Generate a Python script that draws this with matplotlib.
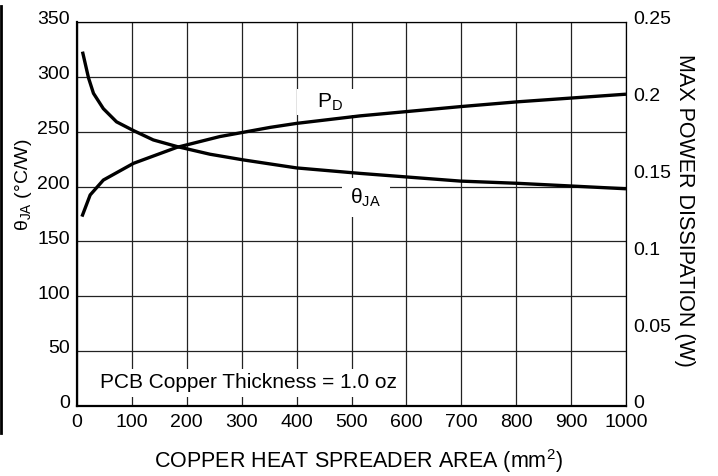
import matplotlib
matplotlib.use('Agg')
import matplotlib.pyplot as plt
from matplotlib.lines import Line2D
from matplotlib.transforms import ScaledTranslation

plt.rcParams['font.family'] = ['Liberation Sans', 'DejaVu Sans']
plt.rcParams['mathtext.fontset'] = 'custom'
plt.rcParams['mathtext.rm'] = 'Liberation Sans'
plt.rcParams['font.size'] = 14

# 熱抵抗 θJA (°C/W)
area_theta = [10, 21, 30, 48, 72, 103, 139, 182, 242, 303, 352, 400, 516, 698, 801, 1000]
theta_ja = [323, 299, 285, 271, 259, 251, 242.5, 236.5, 229.5, 224.3, 220.6, 217, 212, 205, 203, 198]

# 最大許容損失 PD (W)
area_pd = [9, 24, 48, 103, 182, 260, 352, 400, 516, 698, 801, 1000]
pd_w = [0.1233, 0.1374, 0.1471, 0.158, 0.1684, 0.1754, 0.1814, 0.184, 0.1889, 0.1949, 0.198, 0.203]

x_ticks = [0, 100, 200, 300, 400, 500, 600, 700, 800, 900, 1000]
left_ticks = [0, 50, 100, 150, 200, 250, 300, 350]
right_ticks = [0, 0.05, 0.1, 0.15, 0.2, 0.25]
right_labels = ['0', '0.05', '0.1', '0.15', '0.2', '0.25']

fig = plt.figure(figsize=(7.18, 4.76), dpi=100)
ax = fig.add_axes([77 / 718, 1 - 406 / 476, 549 / 718, 384 / 476])
ax2 = ax.twinx()

# グリッドと軸
ax.set_xlim(0, 1000)
ax.set_ylim(0, 350)
ax.set_xticks(x_ticks)
ax.set_yticks(left_ticks)
ax.grid(True, color='#222222', linewidth=0.9)
ax.set_axisbelow(True)
ax.tick_params(axis='both', length=0)
ax.tick_params(axis='x', pad=6)
ax.tick_params(axis='y', pad=5)
for side in ['left', 'bottom']:
    ax.spines[side].set_linewidth(1.6)
for side in ['top', 'right']:
    ax.spines[side].set_linewidth(0.9)

ax2.set_ylim(0, 0.25)
ax2.set_yticks(right_ticks)
ax2.set_yticklabels(right_labels)
ax2.tick_params(axis='y', length=0, pad=5)
for s in ax2.spines.values():
    s.set_visible(False)

# 縦軸の目盛ラベルを少し上にずらす
shift = ScaledTranslation(0, 3 / 72, fig.dpi_scale_trans)
for tick in ax.yaxis.get_major_ticks():
    tick.label1.set_transform(tick.label1.get_transform() + shift)
for tick in ax2.yaxis.get_major_ticks():
    tick.label2.set_transform(tick.label2.get_transform() + shift)

# 曲線
ax.plot(area_theta, theta_ja, color='black', linewidth=2.4, solid_capstyle='butt')
ax2.plot(area_pd, pd_w, color='black', linewidth=2.4, solid_capstyle='butt')

# ラベル
ax.text(457, 277, r'   $\mathregular{P_D}$   ', ha='center', va='center', fontsize=15,
        bbox=dict(facecolor='white', edgecolor='none', pad=2))
ax.text(526, 190, r'$\mathregular{θ_{JA}}$', ha='center', va='center', fontsize=15,
        bbox=dict(facecolor='white', edgecolor='none', pad=6))
ax.text(42, 21, 'PCB Copper Thickness = 1.0 oz', ha='left', va='center', fontsize=15,
        bbox=dict(facecolor='white', edgecolor='none', pad=3))

fig.text(23 / 718, 1 - 185 / 476, r'$\mathregular{θ_{JA}}$ (°C/W)', rotation=90,
         ha='center', va='center', fontsize=14)
fig.text(685 / 718, 1 - 210 / 476, 'MAX POWER DISSIPATION (W)', rotation=-90,
         ha='center', va='center', fontsize=15.5)
fig.text(358 / 718, 1 - 461 / 476, r'COPPER HEAT SPREADER AREA (mm$^\mathregular{2}$)',
         ha='center', va='center', fontsize=15.5)

# 左端の縦線
fig.add_artist(Line2D([1.3 / 718, 1.3 / 718], [1 - 433 / 476, 1 - 6 / 476],
                      transform=fig.transFigure, color='black', linewidth=2))

fig.savefig('out.png', dpi=100)
